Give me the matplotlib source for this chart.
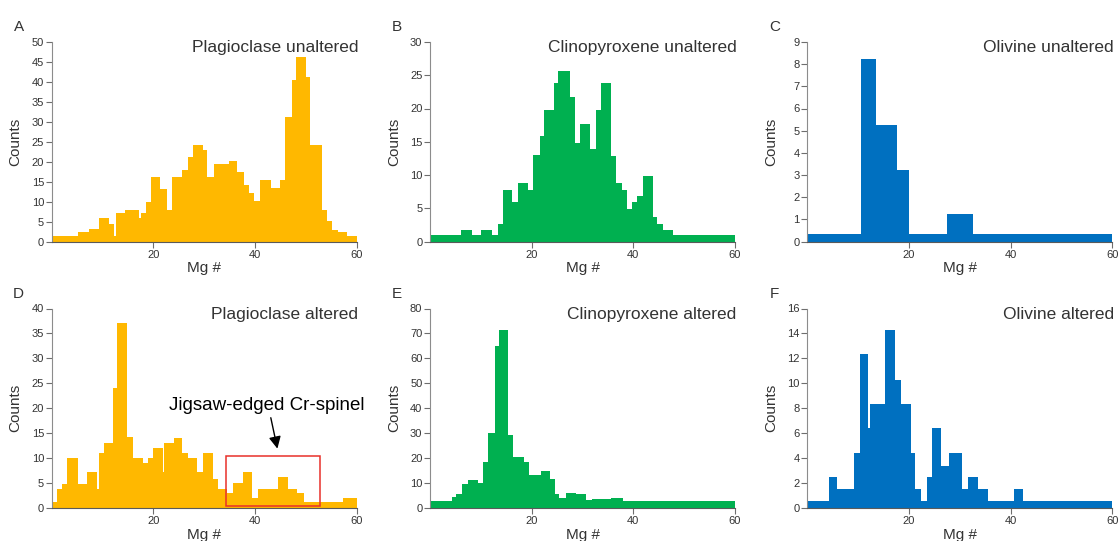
import matplotlib
matplotlib.use("Agg")
import matplotlib.pyplot as plt
from matplotlib.patches import Rectangle

plt.rcParams['font.family'] = ['Liberation Sans', 'DejaVu Sans']

ORANGE = '#FFB800'
GREEN = '#00B050'
BLUE = '#0070C0'

# bin edges (Mg #) and counts
plag_unalt_edges = [0, 5.1, 7.4, 9.4, 11.25, 12.2, 12.6, 14.5, 17.2, 17.6, 18.6, 19.6, 21.4, 22.6,
                    23.6, 25.7, 26.8, 27.8, 29.7, 30.6, 31.9, 34.9, 36.5, 37.8, 38.9, 39.8, 40.9,
                    43.1, 44.9, 45.9, 47.2, 48.1, 50.1, 50.9, 53.2, 54.1, 55.1, 56.3, 58.1, 60]
plag_unalt_counts = [1.5, 2.3, 3.1, 6, 4.5, 1.5, 7.1, 7.9, 6, 7.1, 10, 16.1, 13.2, 8, 16.1, 18,
                     21.3, 24.2, 22.9, 16.2, 19.3, 20.2, 17.5, 14.1, 12.1, 10.1, 15.3, 13.3, 15.3,
                     31.2, 40.4, 46.2, 41.3, 24.2, 8, 5.1, 2.9, 2.4, 1.5]

cpx_unalt_edges = [0, 6.0, 8.2, 10.1, 12.1, 13.4, 14.3, 16.2, 17.4, 19.3, 20.3, 21.6, 22.4, 24.3,
                   25.2, 27.6, 28.5, 29.5, 31.4, 32.7, 33.7, 35.7, 36.6, 37.8, 38.7, 39.7, 40.7,
                   41.9, 43.8, 44.7, 45.8, 47.9, 60]
cpx_unalt_counts = [1, 1.7, 1, 1.7, 1, 2.7, 7.8, 5.9, 8.8, 7.8, 13, 15.8, 19.7, 23.8, 25.7, 21.8,
                    14.8, 17.7, 13.9, 19.7, 23.8, 12.9, 8.8, 7.8, 4.9, 5.9, 6.8, 9.8, 3.7, 2.7, 1.8, 1]

ol_unalt_edges = [0, 10.6, 13.5, 17.7, 20.0, 27.4, 32.5, 60]
ol_unalt_counts = [0.32, 8.25, 5.24, 3.22, 0.32, 1.25, 0.32]

plag_alt_edges = [0, 1.0, 2.0, 3.1, 5.1, 7.0, 8.9, 9.3, 10.2, 12.0, 12.9, 14.9, 15.9, 18.0, 18.9,
                  19.9, 21.8, 22.0, 24.1, 25.6, 26.8, 28.5, 29.8, 31.7, 32.7, 34.4, 35.7, 37.6,
                  39.4, 40.5, 44.5, 46.4, 48.2, 49.6, 57.4, 60]
plag_alt_counts = [1.3, 3.8, 4.9, 10, 4.9, 7.2, 3.9, 11, 13, 24.1, 37, 14.2, 10, 9, 10, 12, 7.2,
                   13, 14, 11, 10, 7.2, 11, 5.8, 3.9, 3, 5, 7.2, 2, 3.9, 6.2, 3.9, 3, 1.3, 2]

cpx_alt_edges = [0, 4.4, 5.2, 6.2, 7.5, 9.4, 10.4, 11.4, 12.7, 13.5, 15.3, 16.4, 18.5, 19.5, 21.8,
                 23.6, 24.6, 25.4, 26.7, 28.7, 30.7, 31.8, 35.7, 38.0, 60]
cpx_alt_counts = [2.9, 4.3, 5.6, 9.5, 11.3, 10.1, 18.5, 30, 65, 71.3, 29.3, 20.4, 18.5, 13.1,
                  14.7, 11.5, 5.7, 4, 6.1, 5.6, 3.2, 3.6, 4.1, 2.9]

ol_alt_edges = [0, 4.2, 5.9, 9.1, 10.3, 12.0, 12.4, 15.3, 17.2, 18.5, 20.4, 21.2, 22.3, 23.5,
                24.5, 26.3, 27.8, 30.4, 31.6, 33.6, 35.6, 40.7, 42.5, 60]
ol_alt_counts = [0.56, 2.5, 1.5, 4.4, 12.35, 6.4, 8.35, 14.3, 10.3, 8.35, 4.4, 1.5, 0.56, 2.5,
                 6.4, 3.4, 4.4, 1.5, 2.5, 1.5, 0.56, 1.5, 0.56]

panels = [
    ("A", "Plagioclase unaltered", plag_unalt_edges, plag_unalt_counts, ORANGE, 50, 5),
    ("B", "Clinopyroxene unaltered", cpx_unalt_edges, cpx_unalt_counts, GREEN, 30, 5),
    ("C", "Olivine unaltered", ol_unalt_edges, ol_unalt_counts, BLUE, 9, 1),
    ("D", "Plagioclase altered", plag_alt_edges, plag_alt_counts, ORANGE, 40, 5),
    ("E", "Clinopyroxene altered", cpx_alt_edges, cpx_alt_counts, GREEN, 80, 10),
    ("F", "Olivine altered", ol_alt_edges, ol_alt_counts, BLUE, 16, 2),
]

W, H = 1118, 541
fig = plt.figure(figsize=(W / 100, H / 100), dpi=100)

lefts = [51.7, 430, 807.3]
bottoms = [241.5, 508]
aw, ah = 305, 199.5

axes = []
for i, (letter, title, edges, counts, color, ymax, ystep) in enumerate(panels):
    r, c = divmod(i, 3)
    ax = fig.add_axes([lefts[c] / W, 1 - bottoms[r] / H, aw / W, ah / H])
    ax.stairs(counts, edges, fill=True, color=color, linewidth=0)
    ax.set_xlim(0, 60)
    ax.set_ylim(0, ymax)
    ax.set_xticks([20, 40, 60])
    ax.set_yticks(range(0, ymax + 1, ystep))
    ax.spines['top'].set_visible(False)
    ax.spines['right'].set_visible(False)
    ax.spines['left'].set_color('#8c8c8c')
    ax.spines['bottom'].set_color('#5a5a5a')
    ax.tick_params(axis='both', labelsize=8, length=4, width=0.8, color='#6e6e6e',
                   labelcolor='#333333')
    ax.tick_params(axis='y', pad=1.5)
    ax.tick_params(axis='x', pad=2)
    ax.set_ylabel("Counts", fontsize=11, color='#333333')
    ax.yaxis.set_label_coords(-0.095, 0.5)
    ax.set_xlabel("Mg #", fontsize=11, color='#333333', labelpad=1)
    ax.text(1.005, 0.972, title, transform=ax.transAxes, ha='right', va='center',
            fontsize=12.5, color='#333333')
    fig.text((lefts[c] - 33) / W, 1 - (bottoms[r] - ah - 15) / H, letter, fontsize=11,
             ha='center', va='center', color='#333333')
    axes.append(ax)

# annotation on panel D
axD = axes[3]
axD.add_patch(Rectangle((34.3, 0.5), 18.5, 9.9, fill=False, edgecolor='#e8302a', linewidth=1.1,
                        zorder=3))
axD.text(42.4, 20.6, "Jigsaw-edged Cr-spinel", fontsize=13.5, ha='center', va='center',
         color='black', clip_on=False)
axD.annotate('', xy=(44.4, 11.9), xytext=(43.1, 18.1),
             arrowprops=dict(arrowstyle='-|>', color='black', lw=1, mutation_scale=18,
                             shrinkA=0, shrinkB=0))

fig.savefig("out.png", dpi=100)
